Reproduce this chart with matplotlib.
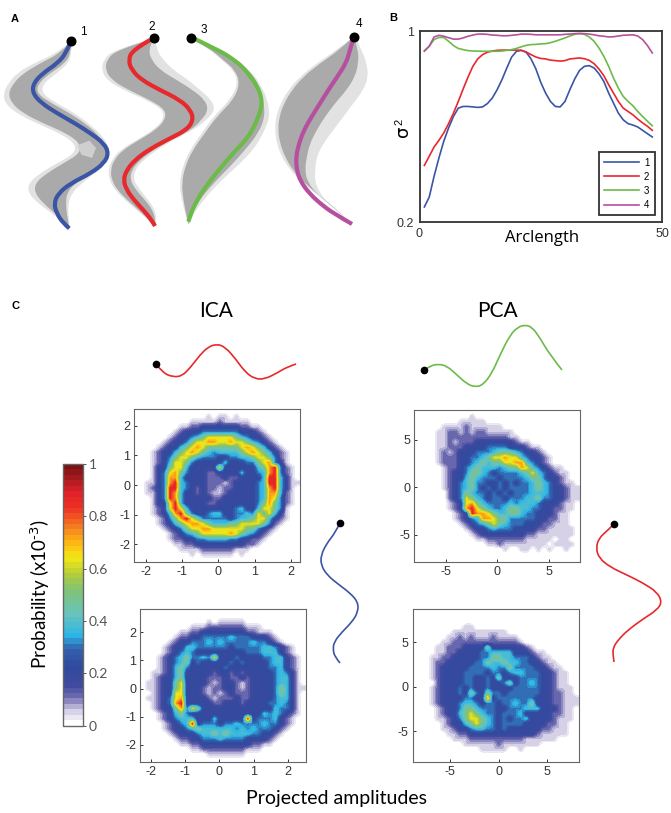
import matplotlib
matplotlib.use("Agg")
import matplotlib.pyplot as plt
import numpy as np
from matplotlib.colors import LinearSegmentedColormap
from matplotlib.path import Path
from matplotlib.patches import PathPatch

plt.rcParams['font.family'] = ['Liberation Sans', 'DejaVu Sans']
plt.rcParams['axes.unicode_minus'] = False
plt.rcParams['mathtext.default'] = 'regular'

BLUE = '#3b55a5'
RED = '#e7282d'
GREEN = '#6cbb49'
MAGENTA = '#b64f9f'
LIGHT = '#e2e2e2'
DARK = '#aaaaaa'

# Panel A (units: 1/3 pixel of the figure)
y1 = [130,160,190,220,250,280,310,340,370,400,430,460,490,520,550,580,610,640,670,685]
main1 = [210,198,172,128,100,98,125,172,225,272,312,326,312,272,212,175,162,170,190,208]
light1_l = [205,170,100,50,25,10,15,50,110,180,225,225,170,120,85,85,115,155,195,205]
light1_r = [215,215,205,170,130,125,170,225,265,300,322,330,318,285,245,215,205,205,208,208]
dark1_l = [207,180,120,70,40,25,35,70,130,200,240,240,190,140,105,105,130,165,198,206]
dark1_r = [213,212,195,150,115,110,155,210,255,290,312,322,305,270,225,200,198,200,206,208]

y2 = [120,150,180,210,240,270,300,330,360,390,420,450,480,510,540,570,600,630,660,678]
main2 = [450,398,385,395,425,480,540,572,580,560,500,445,405,380,370,380,402,430,455,465]
light2_l = [445,340,310,305,320,370,440,490,490,460,410,360,335,325,328,345,375,410,445,460]
light2_r = [465,470,490,520,565,600,635,645,620,580,520,470,430,405,400,420,445,465,470,468]
dark2_l = [447,350,320,316,335,385,450,497,495,467,417,368,342,332,335,352,382,416,447,462]
dark2_r = [458,445,455,480,530,578,615,625,605,573,513,460,420,395,390,408,435,458,466,466]

y3_main = [117,130,145,160,180,200,230,260,290,320,350,380,410,440,470,500,530,560,585,610,630,650,665]
main3 = [585,612,642,672,702,727,752,772,784,785,775,762,745,718,690,665,640,618,600,587,577,570,565]
y3 = [125,145,180,210,250,300,350,400,450,500,550,600,650,672]
light3_l = [590,625,665,700,715,690,640,605,570,548,538,545,558,565]
light3_r = [595,645,705,750,780,803,810,790,760,710,655,610,575,567]
dark3_l = [590,628,670,705,720,700,650,614,578,555,545,550,560,565]
dark3_r = [592,640,698,745,775,790,795,775,735,690,640,598,571,566]

y4 = [115,150,190,230,270,310,350,390,430,470,510,545,580,610,640,672]
main4 = [1060,1050,1038,1012,985,960,935,912,897,888,890,902,928,960,1000,1056]
light4_l = [1055,1010,950,900,865,842,828,825,830,845,870,905,945,985,1020,1056]
light4_r = [1068,1085,1100,1105,1090,1060,1030,1000,970,950,945,945,960,985,1020,1056]
dark4_l = [1055,1018,960,910,876,852,838,834,840,855,878,910,950,988,1022,1056]
dark4_r = [1063,1075,1075,1065,1040,1005,975,950,930,920,915,922,950,985,1020,1056]

# Panel B
arclength = np.arange(1, 49)
var1 = [.263,.304,.391,.468,.538,.594,.642,.677,.684,.684,.682,.680,.682,.696,.719,.754,.796,.845,.891,.915,.919,.911,.883,.841,
        .785,.740,.705,.684,.682,.705,.754,.799,.835,.852,.855,.845,.821,.789,.740,.698,.656,.628,.612,.606,.598,.584,.570,.556]
var2 = [.437,.475,.514,.542,.573,.612,.656,.705,.757,.807,.852,.883,.901,.911,.916,.919,.920,.920,.920,.920,.919,.912,.901,.891,
        .885,.883,.878,.876,.874,.876,.883,.885,.887,.884,.877,.863,.841,.813,.775,.740,.705,.677,.663,.649,.631,.615,.601,.584]
var3 = [.915,.936,.964,.973,.973,.957,.939,.927,.922,.918,.916,.916,.915,.915,.915,.915,.916,.919,.922,.927,.934,.940,.943,.944,
        .946,.947,.951,.957,.964,.971,.979,.986,.989,.986,.975,.957,.929,.894,.852,.803,.761,.726,.705,.687,.663,.642,.622,.603]
var4 = [.917,.936,.975,.982,.978,.972,.966,.966,.971,.978,.983,.987,.987,.986,.983,.982,.980,.980,.982,.984,.987,.987,.986,.984,
        .984,.984,.984,.984,.984,.986,.987,.989,.990,.989,.987,.984,.980,.978,.975,.976,.979,.982,.983,.984,.979,.964,.939,.908]

# Panel C icons, pixel positions in the figure
icon_red_x = [156,163,173,182,190,200,208,217,225,235,245,255,265,277,287,296]
icon_red_y = [364,373,377,376,368,355,347,344,347,358,372,379,379,373,367,364]
icon_green_x = [424,430,438,447,457,467,475,483,492,500,510,518,525,532,540,550,562]
icon_green_y = [370,366,364,366,375,384,387,385,373,355,335,327,325,327,338,355,370]
icon_blue_x = [340,335,327,321,321,327,338,350,358,358,352,342,334,333,335,340]
icon_blue_y = [523,533,543,555,565,575,584,593,602,612,622,632,642,650,657,663]
icon_red2_x = [614,607,599,596,599,610,627,643,657,662,657,643,628,618,613,613,614]
icon_red2_y = [524,531,538,548,558,567,575,583,592,602,610,619,630,640,648,655,662]

# Probability maps, each digit a level read by eye (rows run from top to bottom)
levels = [0, .06, .12, .2, .31, .38, .48, .63, .73, .87]
ica_top = [
"000000000000000000000000000000",
"000000000000010110100000000000",
"000000000011111211111000000000",
"000000001122333333322110000000",
"000000012333444444433321000000",
"000000123345677777654332100000",
"000001233467788778776543210000",
"000012335678766666678765321000",
"000123356787654555567876532100",
"000123467765444334455677642100",
"000123577643333353334467843100",
"000133677533333733333356894210",
"000134786433322333353345894210",
"000134885333322232233335995310",
"001134895433322212333345995311",
"001234995432322122333345895310",
"001134985332321123333345885210",
"000134985333332233333345874210",
"000133795333322333333346864210",
"000123797533333333453357764100",
"000123589643345533445476753100",
"000012468976444443455677532100",
"000012356788765556677776421000",
"000001234677887777776643210000",
"000000123456777778765432100000",
"000000122334455554433221000000",
"000000011223333333332210000000",
"000000001111222222111000000000",
"000000000010111111010000000000",
"000000000000000000000000000000"]
pca_top = [
"000000000000000000000000000000",
"000000000010000000000000000000",
"000000001111100000000000000000",
"000001111211111100000000000000",
"000011221212211111000000000000",
"000011222222222221100000000000",
"000011212223333333211000000000",
"000011222333344443332110000000",
"000012123334445666543321000000",
"000012223344567787754332100000",
"000012223345656677885432100000",
"000001223456555456687543211000",
"000001233466543444456754321100",
"000001233565444344445664332100",
"000001234564433434344565432110",
"000001234564343434444565433211",
"000000234654434343444555433211",
"000000234765434434445564433211",
"000000123786544445455543332110",
"000000123897654456655443322110",
"000000012398876556654433321100",
"000000012345887664444433221100",
"000000001234567654443332211100",
"000000000123345444333322111110",
"000000000012333333332211111110",
"000000000001122222221111101100",
"000000000000011211111111011110",
"000000000000000010011010100100",
"000000000000000000000000000000",
"000000000000000000000000000000"]
ica_bottom = [
"000000000000000000000000000000",
"000000000000000000000000000000",
"000000000000101111100000000000",
"000000000111222222211100000000",
"000000011223333333322111000000",
"000000122334444454443332100000",
"000001233444545444445443210000",
"000012335544444434444455432100",
"000012345433333333344455532100",
"000123456445473334333344553210",
"000123456343333343433334553210",
"000123564333333433333334453210",
"001123563333323323233333454310",
"001233563333222322323333455310",
"011233673333212332123333455310",
"011233673332122332123333465311",
"001233773332121232223333465310",
"011234783333212223223333455310",
"001234893333322333233334454310",
"001233684763333333333333544310",
"000123564333333333333354543210",
"000123455533353333393444532100",
"000012345934443445444454432100",
"000012334565555554545444321000",
"000001233345565655554433210000",
"000000122334445444433332100000",
"000000011223333333332211000000",
"000000000112222222211100000000",
"000000000000111111100000000000",
"000000000000000000000000000000"]
pca_bottom = [
"000000000000000000000000000000",
"000000000000000000000000000000",
"000000000000000000000000000000",
"000000000110000000000000000000",
"000000011111111110000000000000",
"000000112121112111100000000000",
"000001122222222222210000000000",
"000011222333363333332100000000",
"000011223333445555333211000000",
"000112233333446655444321100000",
"000122333334465565544332110000",
"000123333344445446444433211000",
"000123333444434434554443321100",
"000123333443343633344443321100",
"000023333443343346344543321100",
"000123334343343333444443321110",
"000123334364364434444443322110",
"000123333443383444444433322111",
"000123334554344344544633322111",
"000012334665444334445553332110",
"000012335676544344453333322110",
"000011234677654343445333321110",
"000001233567654344443333221100",
"000001123345544343333332211100",
"000000112233333333333321111100",
"000000011122222222221111110000",
"000000000111111211111110000000",
"000000000000111110010000000000",
"000000000000000000000000000000",
"000000000000000000000000000000"]

prob_cmap = LinearSegmentedColormap.from_list('prob', [
    (0, '#ffffff'), (.05, '#cfcae3'), (.1, '#6f6bb0'), (.15, '#3f4a9f'), (.22, '#2f4a9e'),
    (.29, '#3462ae'), (.34, '#2bb4e6'), (.42, '#66c3c0'), (.52, '#82c274'), (.58, '#b4cd3a'),
    (.645, '#f3e816'), (.7, '#fdb913'), (.76, '#f58220'), (.84, '#ee3124'), (.9, '#e0202a'),
    (.95, '#a81c20'), (1, '#7a1214')], N=48)

W, H = 671, 813
fig = plt.figure(figsize=(W/100, H/100), dpi=100)


def px_axes(left, top, right, bottom):
    return fig.add_axes([left/W, 1-bottom/H, (right-left)/W, (bottom-top)/H])


def curve_parts(x, y):
    # quadratic bezier segments with the read points as control points
    p = np.column_stack([x, y]).astype(float)
    verts = [p[0]]
    codes = [Path.MOVETO]
    for i in range(1, len(p)-1):
        end = p[-1] if i == len(p)-2 else (p[i]+p[i+1])/2
        verts += [p[i], end]
        codes += [Path.CURVE3, Path.CURVE3]
    return verts, codes


def smooth_line(ax, x, y, color, lw):
    verts, codes = curve_parts(x, y)
    ax.add_patch(PathPatch(Path(verts, codes), fill=False, edgecolor=color, lw=lw, capstyle='butt'))


def smooth_band(ax, yy, left, right, color):
    v1, c1 = curve_parts(left, yy)
    v2, c2 = curve_parts(right[::-1], yy[::-1])
    c2[0] = Path.LINETO
    ax.add_patch(PathPatch(Path(v1+v2, c1+c2), facecolor=color, edgecolor='none', lw=0))


# Overlay in figure pixels for the labels and curve icons
over = px_axes(0, 0, W, H)
over.set_xlim(0, W)
over.set_ylim(H, 0)
over.axis('off')

# --- A ---
ax_a = px_axes(0, 0, 380, 240)
ax_a.set_xlim(0, 1140)
ax_a.set_ylim(720, 0)
ax_a.axis('off')
for yy, l_l, l_r, d_l, d_r in [(y1, light1_l, light1_r, dark1_l, dark1_r),
                               (y2, light2_l, light2_r, dark2_l, dark2_r),
                               (y3, light3_l, light3_r, dark3_l, dark3_r),
                               (y4, light4_l, light4_r, dark4_l, dark4_r)]:
    smooth_band(ax_a, yy, l_l, l_r, LIGHT)
    smooth_band(ax_a, yy, d_l, d_r, DARK)
ax_a.fill([232,268,288,276,244], [436,422,444,474,464], color='#cfcfcf', lw=0)
smooth_line(ax_a, main1, y1, BLUE, 3)
smooth_line(ax_a, main2, y2, RED, 3)
smooth_line(ax_a, main3, y3_main, GREEN, 3)
smooth_line(ax_a, main4, y4, MAGENTA, 3)
ax_a.plot([212,461,573,1061], [124,115,113,110], 'o', color='black', ms=6.2, clip_on=False)
for tx, ty, s in [(251,95,'1'), (454,80,'2'), (611,91,'3'), (1077,72,'4')]:
    ax_a.text(tx, ty, s, fontsize=8.5, ha='center', va='center')

# --- B ---
ax_b = px_axes(419.5, 31, 662, 222)
ax_b.plot(arclength, var1, color=BLUE, lw=1.2, label='1')
ax_b.plot(arclength, var2, color=RED, lw=1.2, label='2')
ax_b.plot(arclength, var3, color=GREEN, lw=1.2, label='3')
ax_b.plot(arclength, var4, color=MAGENTA, lw=1.2, label='4')
ax_b.set_xlim(0, 50)
ax_b.set_ylim(0.2, 1)
ax_b.set_xticks([0, 50])
ax_b.set_yticks([0.2, 1], labels=['0.2', '1'])
ax_b.tick_params(length=0, labelsize=9, labelcolor='#333333', pad=4)
for side in ax_b.spines.values():
    side.set_linewidth(1.3)
    side.set_color('#333333')
leg = ax_b.legend(loc='lower right', bbox_to_anchor=(0.97, 0.035), fontsize=7, fancybox=False,
                  edgecolor='#333333', framealpha=1, borderaxespad=0, labelspacing=0.42,
                  handlelength=3.6, handletextpad=0.5, borderpad=0.55)
leg.get_frame().set_linewidth(1.3)
over.text(542, 238, 'Arclength', fontsize=12, family='Open Sans', ha='center', va='center')
over.text(403, 131, 'σ', fontsize=13, rotation=90, ha='center', va='center', family='DejaVu Sans')
over.text(399, 122, '2', fontsize=8, rotation=90, ha='center', va='center')

# --- C ---
panels = [
    (ica_top, (134.3, 409.3, 300, 561.7), (-2.31, 2.25, -2.58, 2.55), [-2,-1,0,1,2], [-2,-1,0,1,2]),
    (pca_top, (414.3, 410, 580.3, 562.3), (-8.1, 8.1, -7.9, 8.16), [-5,0,5], [-5,0,5]),
    (ica_bottom, (140.3, 609.3, 306, 761.7), (-2.3, 2.52, -2.6, 2.82), [-2,-1,0,1,2], [-2,-1,0,1,2]),
    (pca_bottom, (412.7, 609.3, 578.7, 761.7), (-8.9, 8.3, -8.4, 8.7), [-5,0,5], [-5,0,5]),
]
for rows, box, extent, xt, yt in panels:
    ax = px_axes(*box)
    digits = np.array([[int(c) for c in r.ljust(30, '0')[:30]] for r in rows])
    prob = np.array(levels)[digits]
    im = ax.imshow(prob, cmap=prob_cmap, vmin=0, vmax=1, extent=extent, origin='upper',
                   aspect='auto', interpolation='bilinear', interpolation_stage='data')
    ax.set_xticks(xt)
    ax.set_yticks(yt)
    ax.tick_params(direction='in', length=2.5, width=0.7, labelsize=9, color='#333333',
                   labelcolor='#333333', pad=3)
    for side in ax.spines.values():
        side.set_linewidth(0.8)
        side.set_color('#666666')

cax = px_axes(62.7, 464, 83.3, 725.7)
cbar = fig.colorbar(im, cax=cax, ticks=[0, .2, .4, .6, .8, 1])
cbar.ax.set_yticklabels(['0', '0.2', '0.4', '0.6', '0.8', '1'])
cbar.ax.tick_params(length=2, width=0.7, labelsize=10, color='#555555', labelcolor='#555555', pad=2)
cbar.outline.set_edgecolor('#666666')
cbar.outline.set_linewidth(1)
for t in cbar.ax.get_yticklabels():
    t.set_family('Lato')

smooth_line(over, icon_red_x, icon_red_y, RED, 1.2)
smooth_line(over, icon_green_x, icon_green_y, GREEN, 1.2)
smooth_line(over, icon_blue_x, icon_blue_y, BLUE, 1.2)
smooth_line(over, icon_red2_x, icon_red2_y, RED, 1.2)
over.plot([156,424,340,614], [364,370,523,524], 'o', color='black', ms=4.5)

over.text(216, 311, 'ICA', fontsize=15, family='Lato', ha='center', va='center')
over.text(497, 311, 'PCA', fontsize=15, family='Lato', ha='center', va='center')
over.text(336, 798, 'Projected amplitudes', fontsize=14, family='Lato', ha='center', va='center')
over.text(40, 594, r'Probability (x10$^{\text{-3}}$)', fontsize=13.5, family='Lato', rotation=90,
          ha='center', va='center')
over.text(15, 19, 'A', fontsize=8, fontweight='bold', ha='center', va='center')
over.text(393, 18, 'B', fontsize=8, fontweight='bold', ha='center', va='center')
over.text(15, 306, 'C', fontsize=8, fontweight='bold', ha='center', va='center')

fig.savefig('out.png', dpi=100)
